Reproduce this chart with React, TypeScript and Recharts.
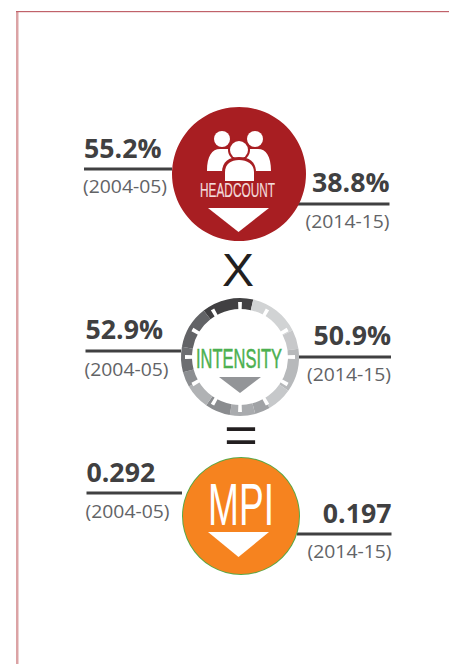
import { Pie, PieChart, Cell } from "recharts";

const periods = ["(2004-05)", "(2014-15)"];
const metricNames = ["HEADCOUNT", "INTENSITY", "MPI"];
const startValues = ["55.2%", "52.9%", "0.292"];
const endValues = ["38.8%", "50.9%", "0.197"];

// one full slice, the badge is a plain disc
const discSlice = [{ value: 1 }];
// gauge ring, clockwise from the dark arc, degrees
const gaugeArcs = [51, 50, 19, 43, 25, 15, 25, 25, 25, 15, 25, 42];
const gaugeTones = [
  "#414042", "#d1d3d4", "#c7c8ca", "#b7b9bb", "#c6c8ca", "#a0a2a5",
  "#a9abae", "#8a8c8f", "#b0b2b4", "#8c8e91", "#6d6e71", "#626366",
];
// white notch then gap, twelve times round
const gaugeNotches = [4, 26, 4, 26, 4, 26, 4, 26, 4, 26, 4, 26, 4, 26, 4, 26, 4, 26, 4, 26, 4, 26, 4, 26];

const DARK = "#404041";
const GREY = "#626366";
const FONT = "'Open Sans', sans-serif";
const NARROW = "'Liberation Sans Narrow', 'Liberation Sans', sans-serif";

const rows = [
  {
    cx: 239, cy: 174,
    left: { x: 84, value: 158, line: 169, end: 172, period: 193 },
    right: { x: 389.5, value: 192, line: 204, start: 297, period: 228 },
  },
  {
    cx: 240, cy: 357,
    left: { x: 85.5, value: 339, line: 351, end: 181, period: 376 },
    right: { x: 391, value: 345, line: 357, start: 299, period: 381 },
  },
  {
    cx: 241, cy: 516,
    left: { x: 86.5, value: 482, line: 493, end: 182, period: 518 },
    right: { x: 391.5, value: 523, line: 534, start: 297, period: 558 },
  },
];

function Readouts() {
  return (
    <g>
      {rows.map((r, i) => (
        <g key={metricNames[i]}>
          <line x1={r.left.x} x2={r.left.end} y1={r.left.line} y2={r.left.line} stroke={DARK} strokeWidth={3} />
          <line x1={r.right.start} x2={r.right.x} y1={r.right.line} y2={r.right.line} stroke={DARK} strokeWidth={3} />
          <text x={r.left.x} y={r.left.value} fontFamily={FONT} fontWeight={700} fontSize={26.7} fill={DARK}>
            {startValues[i]}
          </text>
          <text x={r.right.x} y={r.right.value} textAnchor="end" fontFamily={FONT} fontWeight={700} fontSize={26.7} fill={DARK}>
            {endValues[i]}
          </text>
          <text x={r.left.x - 1} y={r.left.period} textLength={84} lengthAdjust="spacingAndGlyphs" fontFamily={FONT} fontSize={18} fill={GREY}>
            {periods[0]}
          </text>
          <text x={r.right.x - 84} y={r.right.period} textLength={84} lengthAdjust="spacingAndGlyphs" fontFamily={FONT} fontSize={18} fill={GREY}>
            {periods[1]}
          </text>
        </g>
      ))}
    </g>
  );
}

function Badges() {
  return (
    <svg width={449} height={664} style={{ position: "absolute", left: 0, top: 0 }}>
      {/* people icon */}
      <circle cx={222} cy={139} r={8} fill="#fff" />
      <circle cx={255} cy={139} r={8} fill="#fff" />
      <path d="M207 171 C207 156 212 149 220 149 L232 149 C236 155 240 158 246 149 L258 149 C266 149 271 156 271 171 L256 171 L256 182 L222 182 L222 171 Z" fill="#fff" />
      <circle cx={239} cy={150} r={11} fill="#a81e22" />
      <circle cx={239} cy={150} r={9} fill="#fff" />
      <path d="M222 183 L222 172 C222 162 229 157 239 157 C249 157 256 162 256 172 L256 183 Z" fill="#a81e22" />
      <path d="M225 181 L225 172 C225 164 231 160 239 160 C247 160 254 164 254 172 L254 181 Z" fill="#fff" />

      <text x={200} y={197} textLength={75} lengthAdjust="spacingAndGlyphs" fontFamily={NARROW} fontSize={20} fill="#f3dcdc" stroke="#f3dcdc" strokeWidth={0.2}>
        {metricNames[0]}
      </text>
      <polygon points="208,208 269,208 238.5,232" fill="#fff" />

      <text x={196} y={367.5} textLength={86} lengthAdjust="spacingAndGlyphs" fontFamily={NARROW} fontSize={28} fill="#4cb050" stroke="#4cb050" strokeWidth={0.5}>
        {metricNames[1]}
      </text>
      <polygon points="219,377 261,377 240,393" fill="#939598" />

      <text x={208} y={525} textLength={66} lengthAdjust="spacingAndGlyphs" fontFamily={NARROW} fontSize={59} fill="#fff">
        {metricNames[2]}
      </text>
      <polygon points="208,532 269,532 238.5,557" fill="#fff" />

      <text x={222} y={286} textLength={32} lengthAdjust="spacingAndGlyphs" fontFamily="'Liberation Sans', sans-serif" fontSize={46} fill="#231f20">
        X
      </text>
      <text x={224} y={453} textLength={34} lengthAdjust="spacingAndGlyphs" fontFamily="'Liberation Sans', sans-serif" fontSize={52} fill="#231f20">
        =
      </text>
    </svg>
  );
}

export default function App() {
  return (
    <div style={{ position: "absolute", left: 0, top: 0, width: 449, height: 664, background: "#fff" }}>
      <PieChart width={449} height={664} margin={{ top: 0, right: 0, bottom: 0, left: 0 }}>
        <rect x={16} y={12} width={2.5} height={652} fill="#dba3a5" />
        <rect x={16} y={11} width={433} height={1.2} fill="#c0626a" />
        <Readouts />
        <Pie
          data={discSlice}
          dataKey="value"
          cx={rows[0].cx}
          cy={rows[0].cy}
          outerRadius={67}
          startAngle={90}
          endAngle={-270}
          fill="#a81e22"
          stroke="none"
          isAnimationActive={false}
        />
        <Pie
          data={gaugeArcs.map((value) => ({ value }))}
          dataKey="value"
          cx={rows[1].cx}
          cy={rows[1].cy}
          innerRadius={48}
          outerRadius={59}
          startAngle={128}
          endAngle={-232}
          stroke="none"
          isAnimationActive={false}
        >
          {gaugeTones.map((tone, i) => (
            <Cell key={i} fill={tone} />
          ))}
        </Pie>
        <Pie
          data={gaugeNotches.map((value) => ({ value }))}
          dataKey="value"
          cx={rows[1].cx}
          cy={rows[1].cy}
          innerRadius={47}
          outerRadius={55}
          startAngle={92}
          endAngle={-268}
          stroke="none"
          isAnimationActive={false}
        >
          {gaugeNotches.map((_, i) => (
            <Cell key={i} fill={i % 2 === 0 ? "#fff" : "transparent"} />
          ))}
        </Pie>
        <Pie
          data={discSlice}
          dataKey="value"
          cx={rows[2].cx}
          cy={rows[2].cy}
          outerRadius={59}
          startAngle={90}
          endAngle={-270}
          fill="#5aa846"
          stroke="none"
          isAnimationActive={false}
        />
        <Pie
          data={discSlice}
          dataKey="value"
          cx={rows[2].cx}
          cy={rows[2].cy}
          outerRadius={58}
          startAngle={90}
          endAngle={-270}
          fill="#f6831f"
          stroke="none"
          isAnimationActive={false}
        />
      </PieChart>
      <Badges />
    </div>
  );
}
